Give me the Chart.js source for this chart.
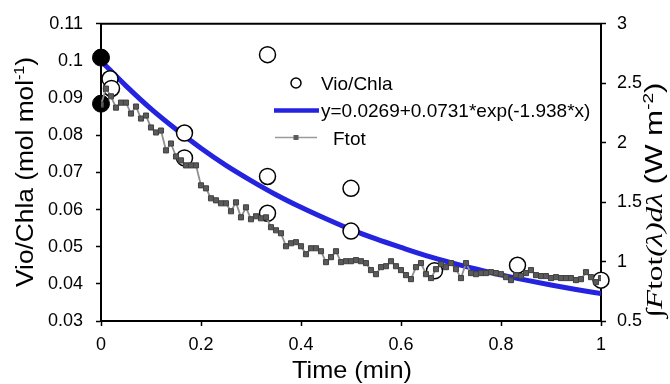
<!DOCTYPE html>
<html>
<head>
<meta charset="utf-8">
<script src="https://cdn.jsdelivr.net/npm/chart.js@4.4.0/dist/chart.umd.min.js"></script>
<style>
  body { margin: 0; background: #fff; }
</style>
</head>
<body>
<canvas id="vioChart" width="670" height="384"></canvas>
<script>
// Vio/Chla measurements (open circles)
const vioTime = [0.018, 0.021, 0.167, 0.167, 0.333, 0.333, 0.333, 0.5, 0.5, 0.667, 0.833, 1.0];
const vioValue = [0.0952, 0.0926, 0.0806, 0.0739, 0.1017, 0.0689, 0.059, 0.0657, 0.0542, 0.0435, 0.045, 0.041];

// the two filled points at t = 0
const startTime = [0, 0];
const startValue = [0.1009, 0.0885];

// fitted curve y=0.0269+0.0731*exp(-1.938*x)
const fitTime = [0, 0.05, 0.1, 0.15, 0.2, 0.25, 0.3, 0.35, 0.4, 0.45, 0.5, 0.55, 0.6, 0.65, 0.7, 0.75, 0.8, 0.85, 0.9, 0.95, 1.0];
const fitValue = [0.1, 0.0933, 0.0871, 0.0816, 0.0765, 0.0719, 0.0678, 0.064, 0.0606, 0.0575, 0.0546,
  0.0521, 0.0498, 0.0476, 0.0457, 0.044, 0.0424, 0.041, 0.0397, 0.0385, 0.0374];

// Ftot, one sample every 0.01 min (right axis)
const ftotStep = 0.01;
const ftotValue = [
  2.32, 2.455, 2.39, 2.295, 2.337, 2.337, 2.245, 2.304, 2.203, 2.228,
  2.128, 2.086, 2.102, 1.935, 1.993, 1.884, 1.851, 1.809, 1.809, 1.809,
  1.641, 1.616, 1.532, 1.515, 1.49, 1.49, 1.423, 1.498, 1.372, 1.456,
  1.356, 1.381, 1.364, 1.372, 1.289, 1.263, 1.238, 1.129, 1.154, 1.163,
  1.129, 1.062, 1.112, 1.112, 1.087, 0.995, 1.037, 1.087, 0.995, 1.003,
  1.003, 1.012, 1.003, 0.987, 0.928, 0.894, 0.953, 0.961, 1.003, 0.961,
  0.928, 0.886, 0.852, 0.953, 0.987, 0.894, 0.861, 0.936, 0.978, 0.953,
  0.987, 0.936, 0.861, 0.987, 0.903, 0.894, 0.903, 0.903, 0.911, 0.903,
  0.894, 0.869, 0.844, 0.886, 0.878, 0.903, 0.928, 0.886, 0.878, 0.878,
  0.861, 0.869, 0.861, 0.861, 0.861, 0.844, 0.852, 0.911, 0.869, 0.827,
  0.861
];

// tick labels
const timeTicks = [0, 0.2, 0.4, 0.6, 0.8, 1];
const vioTicks = [0.03, 0.04, 0.05, 0.06, 0.07, 0.08, 0.09, 0.1, 0.11];
const ftotTicks = [0.5, 1, 1.5, 2, 2.5, 3];

const toPoints = (xs, ys) => xs.map((x, i) => ({ x: x, y: ys[i] }));

const vioPoints = toPoints(vioTime, vioValue);
const startPoints = toPoints(startTime, startValue);
const fitPoints = toPoints(fitTime, fitValue);
const ftotPoints = ftotValue.map((v, i) => ({ x: i * ftotStep, y: v }));

const SANS = 'Liberation Sans, Arial, sans-serif';
const SERIF = 'Liberation Serif, Times New Roman, serif';

// draw a row of text runs centred on (cx, cy), stretched to a given length
function drawRuns(ctx, runs, cx, cy, length, angle) {
  let total = 0;
  runs.forEach(r => {
    ctx.font = r.font;
    r.w = ctx.measureText(r.text).width;
    total += r.w;
  });
  ctx.save();
  ctx.translate(cx, cy);
  ctx.rotate(angle);
  ctx.scale(length / total, 1);
  ctx.fillStyle = '#000';
  ctx.textAlign = 'left';
  ctx.textBaseline = 'alphabetic';
  let x = -total / 2;
  runs.forEach(r => {
    ctx.font = r.font;
    ctx.fillText(r.text, x, r.dy);
    x += r.w;
  });
  ctx.restore();
}

// frame top line, legend and axis titles
const figureText = {
  id: 'figureText',
  afterDraw(chart) {
    const ctx = chart.ctx;
    const a = chart.chartArea;
    ctx.save();

    ctx.strokeStyle = '#000';
    ctx.lineWidth = 2;
    ctx.beginPath();
    ctx.moveTo(a.left - 1, a.top);
    ctx.lineTo(a.right + 1, a.top);
    ctx.stroke();

    // legend
    ctx.fillStyle = '#fff';
    ctx.strokeStyle = '#000';
    ctx.lineWidth = 1.5;
    ctx.beginPath();
    ctx.arc(296, 83, 5, 0, Math.PI * 2);
    ctx.fill();
    ctx.stroke();

    ctx.strokeStyle = '#2424e0';
    ctx.lineWidth = 4.5;
    ctx.beginPath();
    ctx.moveTo(274, 110.5);
    ctx.lineTo(319, 110.5);
    ctx.stroke();

    ctx.strokeStyle = '#9a9a9a';
    ctx.lineWidth = 1.5;
    ctx.beginPath();
    ctx.moveTo(275, 137.5);
    ctx.lineTo(317, 137.5);
    ctx.stroke();
    ctx.fillStyle = '#5c5c5c';
    ctx.fillRect(293.5, 135, 5, 5);

    ctx.fillStyle = '#000';
    ctx.font = '19px ' + SANS;
    ctx.textAlign = 'left';
    ctx.textBaseline = 'alphabetic';
    ctx.fillText('Vio/Chla', 321, 89.5);
    ctx.fillText('y=0.0269+0.0731*exp(-1.938*x)', 321, 117);
    ctx.fillText('Ftot', 333, 144.5);

    // x title
    drawRuns(ctx, [{ text: 'Time (min)', font: '24px ' + SANS, dy: 0 }], 352, 378, 120, 0);

    // left title
    drawRuns(ctx, [
      { text: 'Vio/Chla (mol mol', font: '23px ' + SANS, dy: 6 },
      { text: '-1', font: '14px ' + SANS, dy: -3 },
      { text: ')', font: '23px ' + SANS, dy: 6 }
    ], 27, 172, 230, -Math.PI / 2);

    // right title
    drawRuns(ctx, [
      { text: '\u222B', font: '23px ' + SERIF, dy: 6 },
      { text: 'F', font: 'italic 23px ' + SERIF, dy: 6 },
      { text: 'tot', font: '23px ' + SERIF, dy: 6 },
      { text: '(\u03BB)d\u03BB', font: 'italic 23px ' + SERIF, dy: 6 },
      { text: ' (W m', font: '23px ' + SANS, dy: 6 },
      { text: '-2', font: '14px ' + SANS, dy: -3 },
      { text: ')', font: '23px ' + SANS, dy: 6 }
    ], 656, 200, 235, -Math.PI / 2);

    ctx.restore();
  }
};

const tickFont = { family: SANS, size: 18 };
const setTicks = list => axis => { axis.ticks = list.map(v => ({ value: v })); };

const vio_config = {
  type: 'line',
  data: {
    datasets: [
      {
        label: 'Ftot',
        data: ftotPoints,
        yAxisID: 'y2',
        borderColor: '#8f8f8f',
        borderWidth: 1.8,
        pointStyle: 'rect',
        pointRadius: 3.6,
        pointBackgroundColor: '#5a5a5a',
        pointBorderColor: '#404040',
        pointBorderWidth: 1,
        order: 0
      },
      {
        label: 'Vio/Chla',
        data: vioPoints,
        yAxisID: 'y',
        showLine: false,
        pointRadius: 8,
        pointBackgroundColor: '#fff',
        pointBorderColor: '#000',
        pointBorderWidth: 1.5,
        clip: false,
        order: 1
      },
      {
        label: 'start',
        data: startPoints,
        yAxisID: 'y',
        showLine: false,
        pointRadius: 8.5,
        pointBackgroundColor: '#000',
        pointBorderColor: '#000',
        clip: false,
        order: 2
      },
      {
        label: 'fit',
        data: fitPoints,
        yAxisID: 'y',
        borderColor: '#2424e0',
        borderWidth: 5,
        pointRadius: 0,
        cubicInterpolationMode: 'monotone',
        order: 3
      }
    ]
  },
  options: {
    responsive: false,
    animation: false,
    layout: { padding: { top: 23, left: 0, right: 0, bottom: 0 } },
    plugins: {
      legend: { display: false },
      tooltip: { enabled: false }
    },
    scales: {
      x: {
        type: 'linear',
        min: 0,
        max: 1,
        afterBuildTicks: setTicks(timeTicks),
        afterFit: s => { s.height = 63; },
        grid: { drawOnChartArea: false, color: '#000', tickLength: 5, tickWidth: 1.5 },
        border: { color: '#000', width: 2 },
        ticks: { color: '#000', font: tickFont, padding: 8, maxRotation: 0, callback: v => String(v) }
      },
      y: {
        position: 'left',
        min: 0.03,
        max: 0.11,
        afterBuildTicks: setTicks(vioTicks),
        afterFit: s => { s.width = 101; },
        grid: { drawOnChartArea: false, color: '#000', tickLength: 5, tickWidth: 1.5 },
        border: { color: '#000', width: 2 },
        ticks: { color: '#000', font: tickFont, padding: 13, callback: v => String(v) }
      },
      y2: {
        position: 'right',
        min: 0.5,
        max: 3,
        afterBuildTicks: setTicks(ftotTicks),
        afterFit: s => { s.width = 69; },
        grid: { drawOnChartArea: false, color: '#000', tickLength: 5, tickWidth: 1.5 },
        border: { color: '#000', width: 2 },
        ticks: { color: '#000', font: tickFont, padding: 11, callback: v => String(v) }
      }
    }
  },
  plugins: [figureText]
};

const myVioChart = new Chart(
  document.getElementById('vioChart'),
  vio_config
);
</script>
</body>
</html>
